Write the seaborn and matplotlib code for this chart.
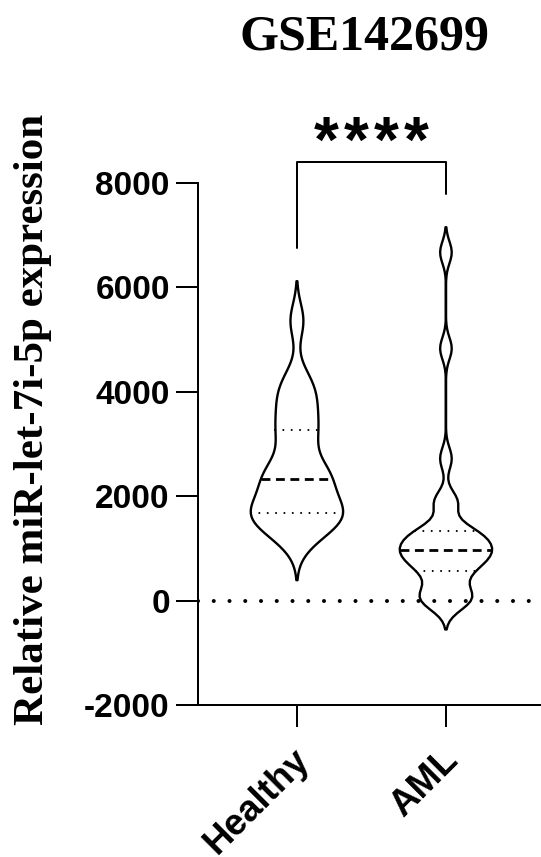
import numpy as np
import pandas as pd
import matplotlib
matplotlib.use("Agg")
import matplotlib.pyplot as plt
import matplotlib.transforms as mtransforms
import seaborn as sns

# values
groups = ["Healthy", "AML"]
healthy = [1150, 1350, 1500, 1580, 1640, 1700, 1780, 1900, 2150, 2300, 2360, 2500,
           2620, 3100, 3200, 3500, 3750, 4000, 4250, 5360]
aml = [-70, -10, 60, 100, 280, 480, 600, 680, 760, 830, 900, 940, 980, 1050, 1130,
       1200, 1270, 1320, 1400, 1850, 1920, 2720, 4830, 6670]
y_ticks = [-2000, 0, 2000, 4000, 6000, 8000]
title = "GSE142699"
y_label = "Relative miR-let-7i-5p expression"
sig_label = "****"

df = pd.DataFrame({
    "group": ["Healthy"] * len(healthy) + ["AML"] * len(aml),
    "value": healthy + aml,
})

# kde smoothing in data units, per group
bandwidth = {"Healthy": 330, "AML": 210}
cut = 2.3

sns.set_style("ticks")
plt.rcParams["font.family"] = ["Liberation Sans", "DejaVu Sans"]
plt.rcParams["font.weight"] = "bold"
plt.rcParams["axes.linewidth"] = 1.44
plt.rcParams["axes.unicode_minus"] = False
for key in ["text.color", "axes.labelcolor", "xtick.color", "ytick.color", "axes.edgecolor"]:
    plt.rcParams[key] = "black"

fig = plt.figure(figsize=(5.41, 8.57), dpi=100)
ax = fig.add_axes([198 / 541, 1 - 705 / 857, 343 / 541, 522 / 857])

for g in groups:
    sub = df[df["group"] == g]
    n_before = len(ax.lines)
    sns.violinplot(data=sub, x="group", y="value", order=groups, ax=ax,
                   bw_method=bandwidth[g] / sub["value"].std(), cut=cut,
                   width=0.62, density_norm="width", fill=False, color="black",
                   linewidth=1.7, inner="quart",
                   inner_kws=dict(color="black", linewidth=1.5))
    new_lines = ax.lines[n_before:]
    for i, ln in enumerate(new_lines):
        if i == 1:
            ln.set_linewidth(2)
            ln.set_linestyle((0, (3.2, 2)))
        else:
            ln.set_linestyle((0, (0.01, 4)))
            ln.set_dash_capstyle("round")

# zero reference line
ax.axhline(0, color="black", lw=2.9, linestyle=(0, (0.01, 3.9)),
           dash_capstyle="round", zorder=5)

# significance bracket
tops = {g: max(df.loc[df["group"] == g, "value"]) + cut * bandwidth[g] + 630 for g in groups}
bracket_y = 8400
ax.plot([0, 0, 1, 1], [tops["Healthy"], bracket_y, bracket_y, tops["AML"]],
        color="black", lw=1.44, clip_on=False)
pitch = 30 / 541
x0 = 371 / 541 - pitch * (len(sig_label) - 1) / 2
for k, ch in enumerate(sig_label):
    fig.text(x0 + k * pitch, 1 - 162 / 857, ch, ha="center", va="baseline",
             fontsize=46, fontweight="bold")

ax.set_ylim(-2000, 8000)
ax.set_xlim(-0.664, 1.638)
ax.set_yticks(y_ticks)
ax.set_xticks(range(len(groups)))
ax.tick_params(axis="both", length=15.8, width=1.44, labelsize=24, pad=4.5)
ax.tick_params(axis="x", labelbottom=False)
for lab in ax.get_yticklabels():
    lab.set_fontweight("bold")

sns.despine(ax=ax)
ax.set_xlabel("")
ax.set_ylabel(y_label, family=["Liberation Serif"], fontsize=31, fontweight="bold")
ax.yaxis.set_label_coords(-0.426, 0.548)

# rotated category labels
lab_trans = mtransforms.blended_transform_factory(ax.transData, ax.transAxes) + \
    mtransforms.ScaledTranslation(0.07, -0.50, fig.dpi_scale_trans)
for i, g in enumerate(groups):
    ax.text(i, 0, g, transform=lab_trans, rotation=45, rotation_mode="anchor",
            ha="right", va="center", fontsize=26.5, fontweight="bold")

fig.text(365 / 541, 1 - 50 / 857, title, ha="center", va="baseline",
         family=["Liberation Serif"], fontsize=36, fontweight="bold")

fig.savefig("out.png", dpi=100)
